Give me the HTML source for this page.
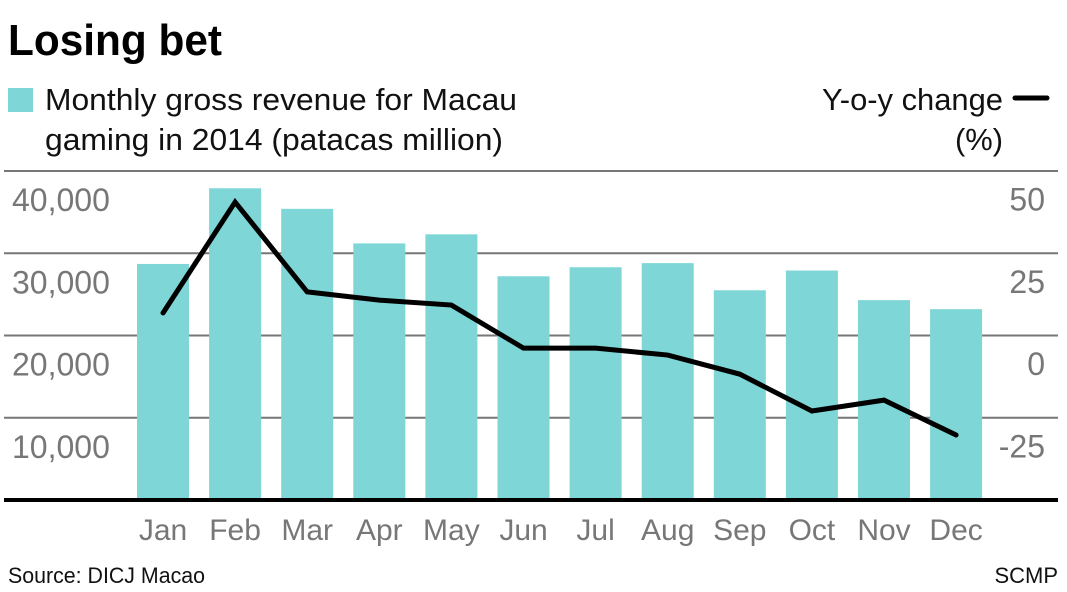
<!DOCTYPE html>
<html><head><meta charset="utf-8"><style>
html,body{margin:0;padding:0;background:#fff;width:1067px;height:592px;overflow:hidden}
svg{display:block;font-family:"Liberation Sans",sans-serif}
</style></head><body>
<svg id="chart" width="1067" height="592" viewBox="0 0 1067 592">
<text x="8" y="55" font-size="44" font-weight="bold" textLength="214" lengthAdjust="spacingAndGlyphs">Losing bet</text>
<rect x="8" y="88" width="25" height="24" fill="#7ed6d6"/>
<text x="45" y="110" font-size="31" fill="#111" textLength="472" lengthAdjust="spacingAndGlyphs">Monthly gross revenue for Macau</text>
<text x="45" y="150" font-size="31" fill="#111" textLength="458" lengthAdjust="spacingAndGlyphs">gaming in 2014 (patacas million)</text>
<text x="822" y="110" font-size="31" fill="#111" textLength="181" lengthAdjust="spacingAndGlyphs">Y-o-y change</text>
<line x1="1015" y1="98" x2="1047" y2="98" stroke="#000" stroke-width="5" stroke-linecap="round"/>
<text x="955" y="150" font-size="31" fill="#111" textLength="48" lengthAdjust="spacingAndGlyphs">(%)</text>
<g id="grid"></g>
<g id="bars"></g>
<g id="labels"></g>
<line x1="4" y1="500" x2="1058" y2="500" stroke="#000" stroke-width="4"/>
<path id="yoy" fill="none" stroke="#000" stroke-width="5" stroke-linejoin="miter" stroke-linecap="round"/>
<text x="8" y="583" font-size="22" fill="#111" textLength="197" lengthAdjust="spacingAndGlyphs">Source: DICJ Macao</text>
<text x="1058" y="583" font-size="22" fill="#111" text-anchor="end">SCMP</text>
</svg>
<script>
const months = ["Jan","Feb","Mar","Apr","May","Jun","Jul","Aug","Sep","Oct","Nov","Dec"];
const revenue = [28700,37900,35400,31200,32300,27200,28300,28800,25500,27900,24300,23200];
const yoy = [6.7,40.4,13.1,10.6,9.1,-4.0,-4.0,-6.1,-11.9,-23.1,-19.8,-30.4];
const leftTicks = [10000,20000,30000,40000];
const leftTickLabels = ["10,000","20,000","30,000","40,000"];
const rightTicks = [-25,0,25,50];
const rightTickLabels = ["-25","0","25","50"];

const NS="http://www.w3.org/2000/svg";
const yL = v => 500 - v*0.008225;
const yR = v => 335 - v*3.29;
const xC = i => 163 + i*72.1;
function mk(tag, attrs, parent){const e=document.createElementNS(NS,tag);for(const k in attrs)e.setAttribute(k,attrs[k]);parent.appendChild(e);return e;}
const grid=document.getElementById('grid'), bars=document.getElementById('bars'), labels=document.getElementById('labels');
leftTicks.forEach((t,i)=>{
  const y=yL(t);
  const l=mk('line',{x1:4,x2:1058,y1:y,y2:y,stroke:'#777','stroke-width':2},grid);
  
  
  const tx=mk('text',{x:12,y:y+40,'font-size':32,fill:'#777'},labels);
  tx.textContent=leftTickLabels[i];
  
  
});
rightTicks.forEach((t,i)=>{
  const y=yR(t);
  const tx=mk('text',{x:1045,y:y+40,'font-size':32,fill:'#777','text-anchor':'end'},labels);
  tx.textContent=rightTickLabels[i];
  
  
});
revenue.forEach((v,i)=>{
  const y=yL(v);
  const r=mk('rect',{x:xC(i)-26,y:y,width:52,height:500-y,fill:'#7ed6d6'},bars);
  
  
  const tx=mk('text',{x:xC(i),y:540,'font-size':30,fill:'#777','text-anchor':'middle'},labels);
  tx.textContent=months[i];
  
  
});
document.getElementById('yoy').setAttribute('d', yoy.map((v,i)=>(i?'L':'M')+xC(i)+','+yR(v)).join(' '));
</script>
</body></html>
